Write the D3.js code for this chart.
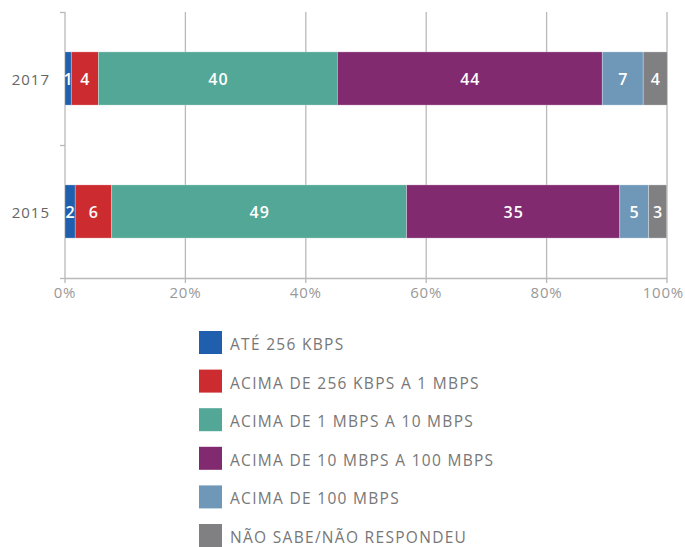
<!DOCTYPE html>
<html><head><meta charset="utf-8">
<script src="https://cdn.jsdelivr.net/npm/d3@7"></script>
<style>body{margin:0;background:#fff}svg{display:block}text{font-family:"Open Sans",sans-serif}</style>
</head><body><svg id="c" width="685" height="547"></svg>
<script>
const years = ["2017", "2015"];
const series = ["ATÉ 256 KBPS", "ACIMA DE 256 KBPS A 1 MBPS", "ACIMA DE 1 MBPS A 10 MBPS", "ACIMA DE 10 MBPS A 100 MBPS", "ACIMA DE 100 MBPS", "NÃO SABE/NÃO RESPONDEU"];
const values2017 = [1.05, 4.5, 39.7, 44.0, 6.8, 4.0];
const values2015 = [1.7, 6.05, 49.0, 35.4, 4.8, 3.0];
const labels2017 = ["1", "4", "40", "44", "7", "4"];
const labels2015 = ["2", "6", "49", "35", "5", "3"];
const colors = ["#1f5fad", "#cc2b30", "#53a796", "#812a6f", "#6f98b8", "#808083"];
const xTicks = [0, 20, 40, 60, 80, 100];

const svg = d3.select("#c");
const x = d3.scaleLinear().domain([0, 100]).range([65, 667]);
const y = d3.scaleBand().domain(years).range([12, 278]).paddingInner(0.6).paddingOuter(0.3);
const yb = d3.scaleBand().domain(years).range([12, 278]);
const grey = "#b9b9b9";

svg.append("g").selectAll("line").data(xTicks).join("line")
  .attr("x1", d => x(d)).attr("x2", d => x(d)).attr("y1", 12).attr("y2", 283)
  .attr("stroke", grey).attr("stroke-width", 1.3);
svg.append("line").attr("x1", x(0)).attr("x2", x(100)).attr("y1", 278.5).attr("y2", 278.5).attr("stroke", grey).attr("stroke-width", 1.3);
const edges = [12, 145, 278];
svg.append("g").selectAll("line").data(edges).join("line")
  .attr("x1", 60).attr("x2", 65).attr("y1", d => d + 0.5).attr("y2", d => d + 0.5)
  .attr("stroke", grey).attr("stroke-width", 1.3);

const data = [
  {year: "2017", vals: values2017, labs: labels2017},
  {year: "2015", vals: values2015, labs: labels2015}
];
data.forEach(row => {
  let acc = 0;
  const segs = row.vals.map((v, i) => { const s = {x0: acc, x1: acc + v, i, lab: row.labs[i]}; acc += v; return s; });
  const g = svg.append("g");
  g.selectAll("rect").data(segs).join("rect")
    .attr("x", d => x(d.x0)).attr("width", d => x(d.x1) - x(d.x0))
    .attr("y", y(row.year)).attr("height", y.bandwidth())
    .attr("fill", d => colors[d.i]).attr("stroke", "rgba(255,255,255,0.35)").attr("stroke-width", 0.8);
  g.selectAll("text").data(segs).join("text")
    .attr("x", d => (x(d.x0) + x(d.x1)) / 2 + 0.5).attr("y", y(row.year) + y.bandwidth() / 2)
    .attr("text-anchor", "middle").attr("dominant-baseline", "central")
    .attr("fill", "#fff").attr("font-size", 16).attr("font-weight", 600).attr("letter-spacing", 1)
    .text(d => d.lab);
});

svg.append("g").selectAll("text").data(years).join("text")
  .attr("x", 50).attr("y", d => yb(d) + yb.bandwidth() / 2)
  .attr("text-anchor", "end").attr("dominant-baseline", "central")
  .attr("fill", "#666").attr("font-size", 15).attr("letter-spacing", 1).text(d => d);

svg.append("g").selectAll("text").data(xTicks).join("text")
  .attr("x", d => d === 100 ? 684 : x(d)).attr("y", 292)
  .attr("text-anchor", d => d === 100 ? "end" : "middle").attr("dominant-baseline", "central")
  .attr("fill", "#999").attr("font-size", 15).attr("letter-spacing", 0.8).text(d => d + "%");

const lg = svg.append("g").selectAll("g").data(series).join("g")
  .attr("transform", (d, i) => `translate(199,${331 + i * 38.6})`);
lg.append("rect").attr("width", 23).attr("height", 23).attr("fill", (d, i) => colors[i]);
lg.append("text").attr("x", 31).attr("y", 13).attr("dominant-baseline", "central")
  .attr("fill", "#777").attr("font-size", 15.5).attr("letter-spacing", 1.3).text(d => d);
</script></body></html>
